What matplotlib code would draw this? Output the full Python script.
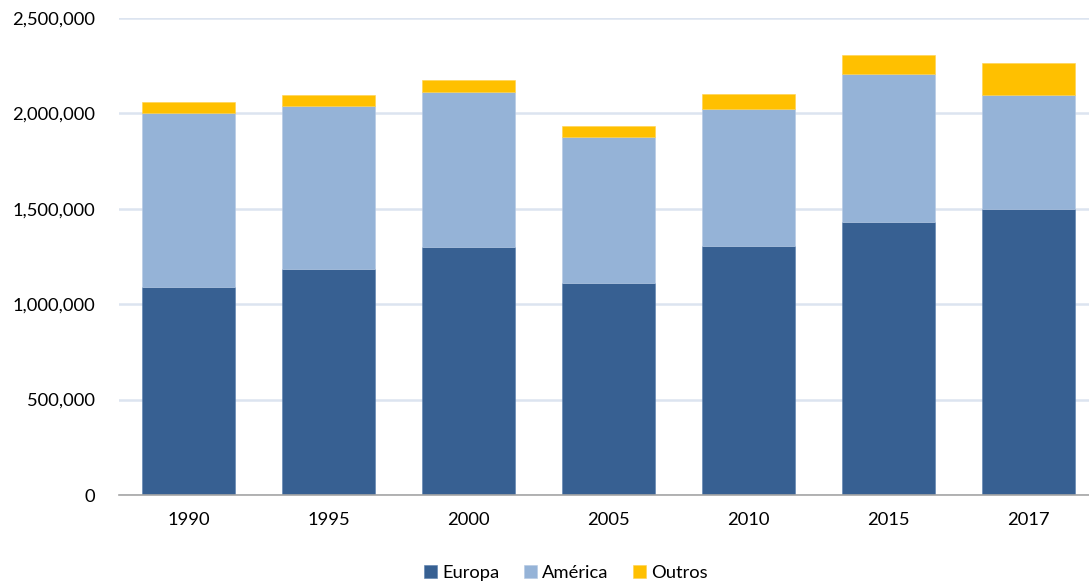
import matplotlib
matplotlib.use("Agg")
import matplotlib.pyplot as plt
from matplotlib.ticker import FuncFormatter, MultipleLocator
import numpy as np

years = ["1990", "1995", "2000", "2005", "2010", "2015", "2017"]
europa = [1088600, 1184500, 1298200, 1112700, 1306600, 1432400, 1500500]
america = [913400, 855800, 815500, 762000, 714900, 775600, 594300]
outros = [57700, 56100, 59700, 60800, 78600, 98000, 170900]

c_eu = "#376092"
c_am = "#95B3D7"
c_ou = "#FFC000"

plt.rcParams['font.family'] = ['Lato', 'DejaVu Sans']

fig = plt.figure(figsize=(10.89, 5.87), dpi=100)
ax = fig.add_axes([118.5/1089, 92/587, (1089-118.5)/1089, 477/587])

x = np.arange(len(years))
w = 0.665
eu = np.array(europa); am = np.array(america); ou = np.array(outros)
ax.bar(x, eu, w, color=c_eu, label="Europa", zorder=3, edgecolor="#5a7fae", linewidth=0.4)
ax.bar(x, am, w, bottom=eu, color=c_am, label="América", zorder=3, edgecolor="#b5c9e3", linewidth=0.4)
ax.bar(x, ou, w, bottom=eu+am, color=c_ou, label="Outros", zorder=3, edgecolor="#ffd24d", linewidth=0.4)

ax.set_ylim(0, 2500000)
ax.set_xlim(-0.5, 6.43)
ax.yaxis.set_major_locator(MultipleLocator(500000))
ax.yaxis.set_major_formatter(FuncFormatter(lambda v, p: f"{int(v):,}"))
ax.grid(axis='y', color="#DCE4F0", linewidth=1.8, zorder=0)
ax.set_axisbelow(True)
for s in ["top", "right", "left"]:
    ax.spines[s].set_visible(False)
ax.spines["bottom"].set_color("#A6A6A6")
ax.spines["bottom"].set_linewidth(1.2)
ax.spines["bottom"].set_zorder(4)
ax.set_xticks(x)
ax.set_xticklabels(years)
ax.tick_params(axis='both', length=0, labelsize=13.2, colors="#000000")
ax.tick_params(axis='y', pad=17)
ax.tick_params(axis='x', pad=12)

fig.legend(loc="center", bbox_to_anchor=(566/1089, 1-573/587), ncol=3, frameon=False,
           fontsize=13.2, handlelength=0.72, handleheight=0.72, handletextpad=0.3,
           columnspacing=1.3)

fig.savefig("out.png", dpi=100)
